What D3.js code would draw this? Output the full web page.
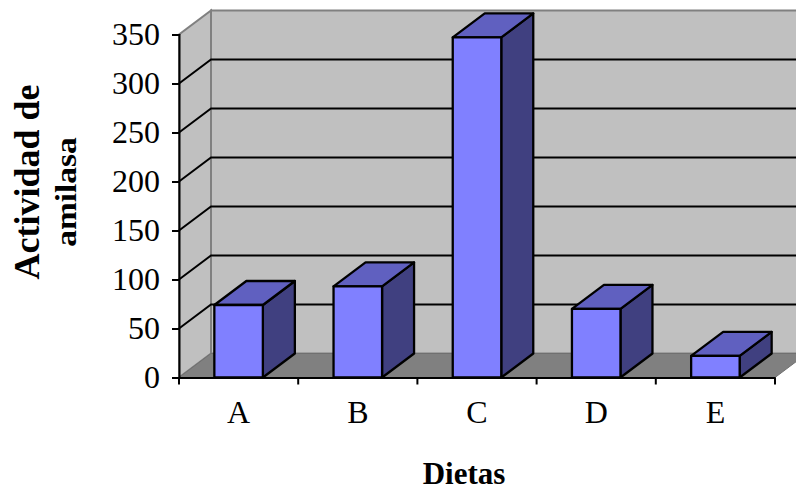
<!DOCTYPE html>
<html>
<head>
<meta charset="utf-8">
<script src="https://cdn.jsdelivr.net/npm/d3@7"></script>
<style>
  html, body { margin: 0; padding: 0; background: #fff; }
  svg { display: block; }
  text { font-family: "Liberation Serif", serif; fill: #000; }
</style>
</head>
<body>
<svg></svg>
<script>
let categories = ["A", "B", "C", "D", "E"];
let values = [74, 93, 347, 70, 22];
let yTicks = [0, 50, 100, 150, 200, 250, 300, 350];

let width = 796;
let height = 487;

// front plane of the chart
let left = 179;
let right = 775;
let bottom = 377.5;
let top_ = 34.5;

// 3d offset of the back wall
let depthX = 32;
let depthY = -24;

let svg = d3.select("svg").attr("width", width).attr("height", height);

let xScale = d3.scaleBand().domain(categories).range([left, right]).paddingInner(0.593).paddingOuter(0.2965);
let yScale = d3.scaleLinear().domain([0, 350]).range([bottom, top_]);

function path(points) {
  return "M" + points.map((p) => p.join(",")).join("L") + "Z";
}

function drawWalls() {
  // side wall
  svg.append("path")
    .attr("d", path([[left, bottom], [left, top_], [left + depthX, top_ + depthY], [left + depthX, bottom + depthY]]))
    .attr("fill", "#c0c0c0")
    .attr("stroke", "#808080")
    .attr("stroke-width", 2);

  // back wall
  svg.append("path")
    .attr("d", path([[left + depthX, bottom + depthY], [left + depthX, top_ + depthY], [right + depthX, top_ + depthY], [right + depthX, bottom + depthY]]))
    .attr("fill", "#c0c0c0")
    .attr("stroke", "#808080")
    .attr("stroke-width", 2);

  // floor
  svg.append("path")
    .attr("d", path([[left, bottom], [left + depthX, bottom + depthY], [right + depthX, bottom + depthY], [right, bottom]]))
    .attr("fill", "#808080")
    .attr("stroke", "#707070")
    .attr("stroke-width", 1);
}

function drawGrid() {
  let lines = yTicks.filter((d) => d > 0 && d < 350);
  svg.selectAll(".grid")
    .data(lines)
    .enter()
    .append("path")
    .attr("class", "grid")
    .attr("d", (d) => {
      let y = yScale(d);
      return `M${left},${y}L${left + depthX},${y + depthY}L${right + depthX},${y + depthY}`;
    })
    .attr("fill", "none")
    .attr("stroke", "#000")
    .attr("stroke-width", 2);
}

function drawBars() {
  let bars = svg.selectAll(".bar")
    .data(values)
    .enter()
    .append("g")
    .attr("class", "bar")
    .attr("stroke", "#000")
    .attr("stroke-width", 2.3)
    .attr("stroke-linejoin", "round");

  let x0 = (d, i) => xScale(categories[i]);
  let x1 = (d, i) => xScale(categories[i]) + xScale.bandwidth();

  // side
  bars.append("path")
    .attr("fill", "#404080")
    .attr("d", (d, i) => path([
      [x1(d, i), bottom],
      [x1(d, i), yScale(d)],
      [x1(d, i) + depthX, yScale(d) + depthY],
      [x1(d, i) + depthX, bottom + depthY]
    ]));

  // top
  bars.append("path")
    .attr("fill", "#6060c0")
    .attr("d", (d, i) => path([
      [x0(d, i), yScale(d)],
      [x0(d, i) + depthX, yScale(d) + depthY],
      [x1(d, i) + depthX, yScale(d) + depthY],
      [x1(d, i), yScale(d)]
    ]));

  // front
  bars.append("path")
    .attr("fill", "#8080ff")
    .attr("d", (d, i) => path([
      [x0(d, i), bottom],
      [x0(d, i), yScale(d)],
      [x1(d, i), yScale(d)],
      [x1(d, i), bottom]
    ]));
}

function drawAxes() {
  let yAxis = d3.axisLeft(yScale).tickValues(yTicks).tickSize(7).tickPadding(12).tickFormat(d3.format("d"));
  let gy = svg.append("g").attr("transform", `translate(${left},0)`).call(yAxis);

  let xAxis = d3.axisBottom(xScale).tickSize(0).tickPadding(23);
  let gx = svg.append("g").attr("transform", `translate(0,${bottom})`).call(xAxis);

  // ticks sit between the categories, not under them
  let xBounds = d3.range(categories.length + 1).map((i) => left + ((right - left) * i) / categories.length);
  gx.selectAll(".bound")
    .data(xBounds)
    .enter()
    .append("line")
    .attr("class", "bound")
    .attr("x1", (d) => d)
    .attr("x2", (d) => d)
    .attr("y1", 0)
    .attr("y2", 7)
    .attr("stroke", "#000")
    .attr("stroke-width", 2);

  [gy, gx].forEach((g) => {
    g.select(".domain").attr("stroke", "#000").attr("stroke-width", 2);
    g.selectAll(".tick line").attr("stroke", "#000").attr("stroke-width", 2);
    g.selectAll("text")
      .style("font-family", '"Liberation Serif", serif')
      .style("font-size", "32px")
      .attr("fill", "#000");
  });
}

function drawLabels() {
  svg.append("text")
    .attr("x", 464)
    .attr("y", 484)
    .attr("text-anchor", "middle")
    .style("font-size", "31px")
    .style("font-weight", "bold")
    .text("Dietas");

  svg.append("text")
    .attr("transform", "translate(39,182) rotate(-90)")
    .attr("text-anchor", "middle")
    .style("font-size", "36px")
    .style("font-weight", "bold")
    .text("Actividad de");

  // the second line is squeezed in the original, wider than it is tall
  svg.append("text")
    .attr("transform", "translate(76,192) rotate(-90) scale(1.15,1)")
    .attr("text-anchor", "middle")
    .style("font-size", "29px")
    .style("font-weight", "bold")
    .text("amilasa");
}

drawWalls();
drawGrid();
drawBars();
drawAxes();
drawLabels();
</script>
</body>
</html>
